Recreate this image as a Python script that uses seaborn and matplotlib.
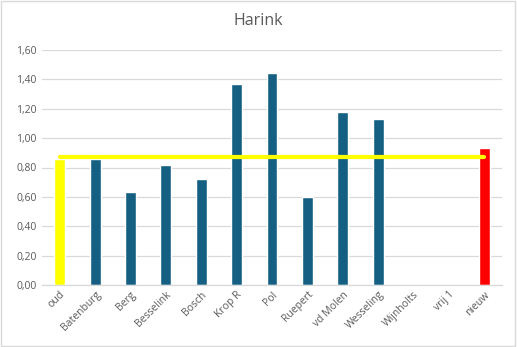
import matplotlib
matplotlib.use("Agg")
import matplotlib.pyplot as plt
import seaborn as sns
import pandas as pd

categories = ["oud", "Batenburg", "Berg", "Besselink", "Bosch", "Krop R", "Pol",
              "Ruepert", "vd Molen", "Wesseling", "Wijnholts", "vrij 1", "nieuw"]
values = [0.86, 0.86, 0.635, 0.82, 0.725, 1.37, 1.445, 0.60, 1.18, 1.13, 0.0, 0.0, 0.93]
avg_line = [0.87] * len(categories)
yticks = [0.0, 0.2, 0.4, 0.6, 0.8, 1.0, 1.2, 1.4, 1.6]
title = "Harink"

blue = "#156082"
colors = {c: blue for c in categories}
colors["oud"] = "#FFFF00"
colors["nieuw"] = "#FF0000"

sns.set_theme(style="white")
plt.rcParams["font.family"] = ["Open Sans", "DejaVu Sans"]

df = pd.DataFrame({"cat": categories, "val": values})

fig = plt.figure(figsize=(5.17, 3.47), dpi=100)
ax = fig.add_axes([42/517, (347-285)/347, 460/517, 235/347])

sns.barplot(data=df, x="cat", y="val", hue="cat", palette=colors, order=categories,
            hue_order=categories, width=0.31, legend=False, ax=ax, saturation=1, zorder=2)
sns.lineplot(x=list(range(len(categories))), y=avg_line, color="#FFFF00", linewidth=3,
             ax=ax, zorder=3)

ax.set_xlim(-0.5, len(categories) - 0.5)
ax.set_ylim(0, 1.6)
ax.set_yticks(yticks)
ax.set_yticklabels([f"{v:.2f}".replace(".", ",") for v in yticks])
ax.yaxis.grid(True, color="#D9D9D9", linewidth=0.9, zorder=0)
ax.set_axisbelow(True)
for s in ["top", "right", "left"]:
    ax.spines[s].set_visible(False)
ax.spines["bottom"].set_color("#D9D9D9")
ax.spines["bottom"].set_linewidth(0.9)
ax.tick_params(axis="both", length=0, labelsize=7.5, colors="#595959", pad=4)
ax.tick_params(axis="x", pad=3)
plt.setp(ax.get_xticklabels(), rotation=45, ha="right", rotation_mode="anchor")
ax.set_xlabel("")
ax.set_ylabel("")

fig.text(0.5, 1 - 21/347, title, ha="center", va="center", fontsize=11.5, color="#595959")

border = plt.Rectangle((0.002, 0.003), 0.995, 0.994, transform=fig.transFigure,
                       fill=False, edgecolor="#D9D9D9", linewidth=1)
fig.patches.append(border)

fig.savefig("out.png", dpi=100)
